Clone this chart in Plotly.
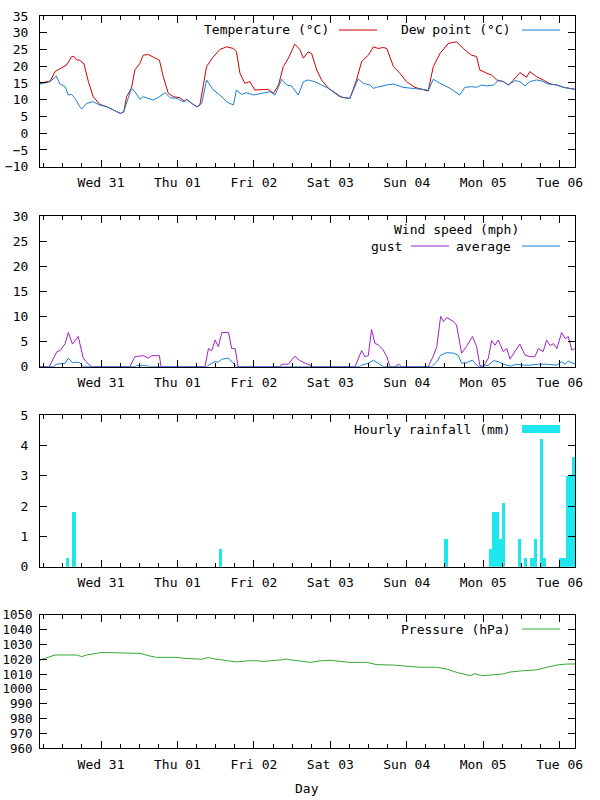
import plotly.graph_objects as go
import pandas as pd

START = "2013-07-30 04:50"
END = "2013-08-06 04:50"
DAY_TICK0 = "2013-07-31 00:00"

# ---- Temperature / dew point (hours from START, deg C) ----
TEMP_HOURS = [0.0, 3.2, 4.7, 7.4, 8.4, 9.9, 10.6, 11.5, 12.5, 13.8, 15.2, 16.7, 18.8, 21.0, 23.1,
              25.2, 26.3, 27.2, 28.7, 29.8, 31.4, 32.4, 34.0, 35.6, 37.5, 38.7, 40.3, 41.9, 43.9,
              45.5, 46.0, 47.6, 49.2, 50.2, 51.3, 52.3, 54.4, 56.5, 58.6, 60.7, 61.7, 62.8, 64.3,
              65.9, 67.5, 70.1, 71.7, 73.3, 74.9, 76.4, 78.0, 80.0, 81.6, 82.7, 84.2, 85.3, 86.9,
              88.4, 90.6, 92.7, 94.2, 95.8, 97.3, 99.4, 101.0, 103.1, 104.7, 106.2, 107.8, 108.9,
              111.0, 113.0, 115.1, 117.7, 120.4, 121.9, 123.5, 125.6, 128.2, 130.8, 132.9, 135.5,
              137.1, 138.1, 140.3, 141.8, 143.4, 145.5, 147.1, 148.6, 150.7, 152.8, 153.8, 155.9,
              158.0, 160.2, 162.3, 164.4, 167.4, 168.0]
TEMPERATURE = [14.9, 15.6, 18.4, 20.0, 20.4, 22.8, 23.0, 21.9, 21.8, 20.7, 15.4, 10.9, 8.6, 7.9, 6.9,
               5.9, 6.4, 10.9, 13.4, 18.9, 20.9, 23.3, 23.5, 22.8, 21.8, 16.9, 11.9, 10.9, 10.6,
               9.5, 10.1, 8.9, 7.9, 8.4, 13.9, 19.9, 22.8, 25.0, 25.8, 25.3, 24.3, 17.9, 14.9,
               15.4, 12.9, 12.9, 13.1, 11.9, 14.4, 19.9, 22.4, 26.6, 25.0, 22.4, 24.3, 23.8, 18.9,
               15.9, 13.4, 11.9, 10.9, 10.6, 10.4, 15.9, 21.4, 23.3, 25.8, 25.3, 25.6, 25.3,
               19.9, 17.9, 15.4, 13.7, 12.9, 12.6, 19.9, 23.8, 26.8, 27.3, 25.3, 23.3,
               22.9, 18.9, 17.9, 17.4, 15.9, 15.4, 14.4, 15.8, 18.1, 16.7, 18.4, 16.9,
               15.9, 14.7, 14.4, 13.7, 13.2, 13.1]

DEW_HOURS = [0.0, 3.2, 5.1, 6.3, 7.9, 8.9, 9.9, 11.0, 12.5, 13.1, 14.6, 16.7, 18.8, 21.0, 23.1, 25.2,
             26.3, 28.7, 29.8, 31.4, 32.4, 34.0, 35.6, 37.5, 39.3, 40.9, 43.0, 45.0, 46.0, 49.2,
             50.8, 52.3, 54.4, 56.5, 58.6, 60.7, 61.7, 63.3, 64.9, 67.0, 70.1, 72.2, 73.8, 75.9,
             77.5, 79.0, 81.1, 82.7, 84.2, 86.3, 88.4, 90.6, 92.7, 94.8, 97.3, 99.9, 101.5, 103.6,
             104.7, 105.7, 108.9, 111.0, 114.0, 116.1, 118.8, 121.4, 121.9, 123.5, 125.6, 128.8,
             130.8, 131.8, 133.4, 135.5, 137.1, 138.7, 140.3, 142.4, 143.9, 145.5, 147.1, 149.1,
             150.7, 152.3, 153.8, 155.9, 157.5, 159.6, 162.3, 164.4, 168.0]
DEW_POINT = [14.7, 15.4, 17.1, 14.7, 13.9, 11.4, 11.6, 10.4, 7.9, 7.2, 8.9, 9.4, 8.4, 7.9, 6.9, 5.9,
             6.4, 13.4, 12.4, 10.1, 10.9, 10.4, 9.9, 10.9, 12.1, 10.6, 10.4, 9.4, 10.1, 7.9,
             8.9, 15.9, 12.9, 11.4, 9.4, 8.4, 12.9, 11.6, 12.1, 11.4, 11.9, 12.4, 11.4, 16.1,
             14.4, 14.1, 11.4, 15.4, 15.9, 15.4, 14.4, 13.4, 12.1, 10.7, 10.4, 16.2, 14.9, 14.4,
             13.4, 13.7, 14.4, 14.7, 13.7, 13.4, 13.2, 13.0, 12.6, 16.1, 14.9, 13.4,
             11.9, 11.4, 13.7, 13.9, 13.7, 14.4, 14.1, 14.4, 15.7, 15.4, 14.4, 15.7,
             15.4, 14.1, 15.4, 15.9, 15.6, 14.7, 14.4, 13.7, 13.1]

# ---- Wind (mph) ----
GUST_HOURS = [0.0, 2.9, 5.3, 6.3, 7.9, 8.9, 10.2, 12.0, 13.6, 15.2, 16.2, 28.2, 29.8, 31.4, 32.4,
              34.0, 35.1, 37.5, 38.0, 51.8, 52.9, 53.9, 55.0, 56.0, 57.1, 59.2, 60.2, 61.3, 62.2,
              75.4, 75.9, 78.0, 80.0, 81.6, 82.7, 84.8, 85.8, 98.9, 101.0, 102.0, 103.1, 104.1,
              105.2, 106.2, 107.8, 108.9, 109.9, 111.5, 112.6, 113.6, 121.9, 123.5, 124.6, 125.8,
              126.7, 127.7, 129.8, 130.8, 132.4, 133.9, 135.8, 137.1, 138.1, 139.2, 140.8, 141.8,
              142.9, 143.9, 145.5, 146.6, 147.6, 149.1, 150.7, 152.3, 153.8, 155.4, 156.5, 158.0,
              159.1, 160.2, 161.2, 162.3, 163.8, 164.9, 165.9, 167.0, 168.0]
WIND_GUST = [0.0, 0.0, 3.0, 3.2, 4.6, 6.8, 4.5, 6.0, 1.7, 0.5, 0.0, 0.0, 2.0, 2.2, 2.2,
             1.7, 2.2, 2.2, 0.0, 0.0, 3.6, 3.2, 5.3, 4.0, 6.8, 6.8, 3.6, 3.6, 0.0,
             0.0, 0.5, 0.5, 2.1, 1.2, 0.9, 0.3, 0.0, 0.0, 3.2, 2.0, 2.2, 7.4,
             4.6, 4.4, 3.3, 2.0, 0.0, 0.0, 0.5, 0.0, 0.0, 2.1, 4.0, 10.0,
             9.0, 9.8, 9.0, 8.3, 2.7, 4.0, 6.0, 4.0, 0.3, 0.0, 1.7, 5.2,
             4.3, 5.3, 3.0, 3.6, 1.5, 3.0, 4.5, 2.3, 2.0, 2.0, 3.6, 3.0,
             5.3, 4.2, 4.6, 3.6, 6.8, 5.6, 6.0, 3.3, 3.6]

AVG_HOURS = [0.0, 4.2, 5.3, 6.8, 7.9, 8.9, 10.2, 11.5, 12.5, 13.6, 29.9, 30.3, 33.5, 34.5, 52.3,
             53.9, 55.0, 56.0, 57.1, 59.2, 60.7, 61.7, 100.5, 101.0, 103.1, 104.7, 106.2, 107.8,
             123.0, 123.5, 124.6, 125.8, 127.7, 129.8, 131.3, 132.4, 133.9, 135.8, 137.1, 138.1,
             140.8, 142.4, 143.9, 145.5, 147.6, 149.6, 151.8, 153.8, 156.5, 159.1, 162.3, 163.8,
             164.9, 165.9, 168.0]
WIND_AVG = [0.0, 0.0, 0.5, 0.7, 0.7, 1.7, 0.8, 0.9, 0.8, 0.0, 0.0, 0.2, 0.2, 0.0, 0.0,
            0.7, 1.0, 0.9, 1.5, 1.7, 0.7, 0.0, 0.0, 0.3, 0.7, 1.3, 0.7, 0.0,
            0.0, 0.3, 1.0, 2.3, 2.8, 2.7, 2.3, 0.7, 0.8, 1.3, 0.3, 0.0,
            0.3, 1.2, 1.0, 0.5, 0.1, 0.5, 0.3, 0.3, 0.5, 0.5, 0.3, 1.0,
            0.5, 1.1, 0.5]

# ---- Hourly rainfall (mm) ----
RAIN_HOURS = [8.6, 10.7, 56.6, 127.5, 141.5, 142.5, 143.5, 144.5, 145.5, 150.6, 152.5, 154.5,
              155.5, 157.4, 158.5, 163.6, 164.6, 165.6, 166.6, 167.5]
RAINFALL = [0.3, 1.8, 0.6, 0.9, 0.6, 1.8, 1.8, 0.9, 2.1, 0.9, 0.3, 0.3,
            0.9, 4.2, 0.3, 0.3, 0.3, 3.0, 3.0, 3.6]

# ---- Pressure (hPa) ----
PRES_HOURS = [0.0, 1.6, 4.7, 8.4, 11.5, 13.1, 14.6, 17.8, 18.8, 22.0, 25.2, 28.2, 31.4, 34.5, 36.6,
              39.8, 43.0, 45.0, 49.2, 50.8, 52.9, 54.4, 58.6, 61.7, 64.9, 67.0, 70.1, 73.3, 75.4,
              77.5, 79.0, 81.6, 84.8, 87.9, 91.1, 94.2, 97.3, 102.6, 105.7, 111.0, 114.0, 116.1,
              119.3, 124.6, 127.7, 130.8, 135.0, 136.6, 138.7, 145.5, 147.6, 151.8, 155.9, 159.1,
              162.3, 165.4, 168.0]
PRESSURE = [1019.6, 1020.8, 1023.0, 1023.0, 1023.0, 1021.9, 1023.0, 1024.1, 1024.6, 1024.6, 1024.6,
            1024.6, 1024.1, 1022.3, 1021.4, 1021.4, 1021.4, 1020.8, 1020.5, 1020.1, 1021.4, 1020.5,
            1019.2, 1018.3, 1019.0, 1019.2, 1018.7, 1019.0, 1019.6, 1020.3, 1019.6, 1019.0, 1018.0,
            1019.0, 1019.4, 1018.7, 1018.0, 1018.0, 1016.5, 1016.2, 1015.8, 1015.3, 1014.7, 1014.7,
            1013.5, 1011.3, 1009.0, 1010.4, 1009.0, 1010.2, 1011.5, 1012.4, 1012.9, 1014.7, 1016.2,
            1016.9, 1016.9]

Y_RANGES = [[-10, 35], [0, 30], [0, 5], [960, 1050]]
Y_DTICKS = [5, 5, 1, 10]
Y_STANDOFF = [8, 8, 8, 4]

C_TEMP = "#cc0000"
C_DEW = "#1a7fd4"
C_GUST = "#a020c8"
C_RAIN = "#1de6ec"
C_PRES = "#33a833"

FONT = dict(family="DejaVu Sans Mono", size=13, color="black")
PRES_TICK_FONT = dict(family="DejaVu Sans Mono", size=12.5, color="black")
W, H = 600, 800
PLOT_L, PLOT_R = 40, 575
PANELS = [(16, 166.7), (216, 366.7), (415, 566.7), (615, 748.3)]


def to_time(hours):
    return pd.Timestamp(START) + pd.to_timedelta(hours, unit="h")


fig = go.Figure()
fig.add_trace(go.Scatter(x=to_time(TEMP_HOURS), y=TEMPERATURE, mode="lines",
                         line=dict(color=C_TEMP, width=1), xaxis="x", yaxis="y"))
fig.add_trace(go.Scatter(x=to_time(DEW_HOURS), y=DEW_POINT, mode="lines",
                         line=dict(color=C_DEW, width=1), xaxis="x", yaxis="y"))
fig.add_trace(go.Scatter(x=to_time(GUST_HOURS), y=WIND_GUST, mode="lines",
                         line=dict(color=C_GUST, width=1), xaxis="x2", yaxis="y2"))
fig.add_trace(go.Scatter(x=to_time(AVG_HOURS), y=WIND_AVG, mode="lines",
                         line=dict(color=C_DEW, width=1), xaxis="x2", yaxis="y2"))
fig.add_trace(go.Bar(x=to_time(RAIN_HOURS), y=RAINFALL, width=3600000,
                     marker=dict(color=C_RAIN, line=dict(width=0)), xaxis="x3", yaxis="y3"))
fig.add_trace(go.Scatter(x=to_time(PRES_HOURS), y=PRESSURE, mode="lines",
                         line=dict(color=C_PRES, width=1), xaxis="x4", yaxis="y4"))

layout = dict(width=W, height=H, autosize=False, margin=dict(l=0, r=0, t=0, b=0, pad=0),
              paper_bgcolor="white", plot_bgcolor="white", showlegend=False,
              font=FONT, bargap=0)

for i, (top, bot) in enumerate(PANELS):
    n = "" if i == 0 else str(i + 1)
    dom_y = [1 - bot / H, 1 - top / H]
    layout["xaxis" + n] = dict(
        domain=[PLOT_L / W, PLOT_R / W], anchor="y" + n, type="date", automargin=False,
        range=[START, END], tick0=DAY_TICK0, dtick=86400000, tickformat="%a %d",
        ticks="inside", ticklen=7, tickcolor="black", showline=True, linecolor="black",
        linewidth=1, mirror="ticks", showgrid=False, zeroline=False, tickfont=FONT,
        ticklabelstandoff=4,
        minor=dict(tick0=DAY_TICK0, dtick=21600000, ticks="inside", ticklen=4,
                   tickcolor="black", showgrid=False))
    layout["yaxis" + n] = dict(
        domain=dom_y, anchor="x" + n, range=Y_RANGES[i], dtick=Y_DTICKS[i], automargin=False,
        ticks="inside", ticklen=7, tickcolor="black", showline=True, linecolor="black",
        linewidth=1, mirror="ticks", showgrid=False, zeroline=False,
        tickfont=PRES_TICK_FONT if i == 3 else FONT,
        ticklabelstandoff=Y_STANDOFF[i])

fig.update_layout(**layout)


def px(x):
    return x / W


def py(y):
    return 1 - y / H


def legend_text(text, right_x, y):
    fig.add_annotation(text=text, x=px(right_x), y=py(y), xref="paper", yref="paper",
                       xanchor="right", yanchor="middle", showarrow=False, font=FONT)


def legend_line(x0, x1, y, color):
    fig.add_shape(type="line", xref="paper", yref="paper", x0=px(x0), x1=px(x1),
                  y0=py(y), y1=py(y), line=dict(color=color, width=1))


legend_text("Temperature (°C)", 331, 30)
legend_line(339, 377, 30, C_TEMP)
legend_text("Dew point (°C)", 513, 30)
legend_line(522, 560, 30, C_DEW)

legend_text("Wind speed (mph)", 521, 230)
legend_text("gust", 404, 246)
legend_line(411, 449, 246, C_GUST)
legend_text("average", 513, 246)
legend_line(522, 560, 246, C_DEW)

legend_text("Hourly rainfall (mm)", 513, 429)
fig.add_shape(type="rect", xref="paper", yref="paper", x0=px(522), x1=px(560),
              y0=py(433), y1=py(425), line=dict(width=0), fillcolor=C_RAIN)

legend_text("Pressure (hPa)", 513, 629)
legend_line(522, 560, 629, C_PRES)

fig.add_annotation(text="Day", x=px(307), y=py(788), xref="paper", yref="paper",
                   xanchor="center", yanchor="middle", showarrow=False, font=FONT)

POST = ("document.body.style.margin='0';document.body.style.overflow='hidden';"
        "var gd=document.getElementById('{plot_id}');"
        "Plotly.relayout(gd,{width:600,height:800});")
fig.write_html("out.html", config={"displayModeBar": False, "responsive": False},
               post_script=POST)
